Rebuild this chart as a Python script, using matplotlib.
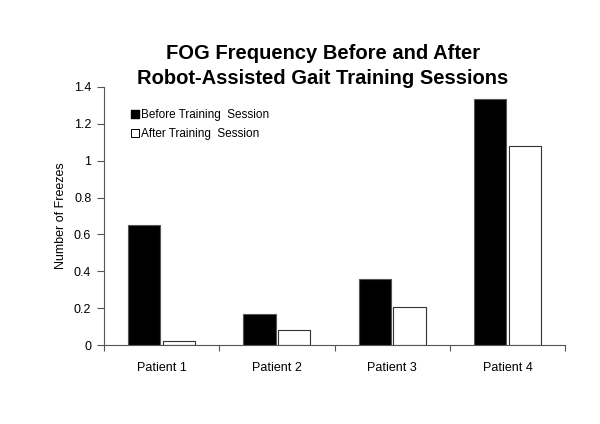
import numpy as np
import matplotlib.pyplot as plt
from matplotlib.lines import Line2D

plt.rcParams['font.family'] = ['Liberation Sans', 'DejaVu Sans']

patients = ["Patient 1", "Patient 2", "Patient 3", "Patient 4"]
before = [0.65, 0.17, 0.36, 1.335]
after = [0.02, 0.08, 0.205, 1.08]

fig = plt.figure(figsize=(6.0, 4.24), dpi=100)
ax = fig.add_axes([0.173, 0.186, 0.769, 0.609])

x = np.arange(len(patients))
w = 0.28
ax.bar(x - 0.15, before, w, color="black", edgecolor="#555555", linewidth=0.8)
ax.bar(x + 0.15, after, w, color="white", edgecolor="#333333", linewidth=0.8)

ax.set_xlim(-0.5, len(patients) - 0.5)
ax.set_ylim(0, 1.4)
ax.set_yticks(np.arange(0, 1.41, 0.2))
ax.set_yticklabels(["0", "0.2", "0.4", "0.6", "0.8", "1", "1.2", "1.4"], fontsize=9)
ax.set_xticks(np.arange(-0.5, len(patients)), labels=[""] * (len(patients) + 1))
ax.set_xticks(x, labels=patients, minor=True)
ax.tick_params(axis="x", which="minor", length=0, labelsize=9, pad=12)
ax.tick_params(axis="x", which="major", direction="out", length=4, color="#555555")
ax.tick_params(axis="y", direction="out", length=5, color="#555555", pad=4)

for side in ("top", "right"):
    ax.spines[side].set_visible(False)
for side in ("left", "bottom"):
    ax.spines[side].set_color("#555555")

ax.set_ylabel("Number of Freezes", fontsize=9, labelpad=5)
fig.text(0.538, 0.845, "FOG Frequency Before and After\nRobot-Assisted Gait Training Sessions",
         ha="center", va="center", fontsize=14.5, fontweight="bold", linespacing=1.4)

handles = [
    Line2D([], [], marker="s", linestyle="none", markerfacecolor="black",
           markeredgecolor="black", markersize=6),
    Line2D([], [], marker="s", linestyle="none", markerfacecolor="white",
           markeredgecolor="black", markersize=6, markeredgewidth=0.7),
]
ax.legend(handles, ["Before Training  Session", "After Training  Session"],
          loc="upper left", bbox_to_anchor=(0.06, 0.915), frameon=False,
          fontsize=8.5, handlelength=0.6, handletextpad=0.2, labelspacing=0.6,
          borderaxespad=0, borderpad=0)

fig.savefig("out.png", dpi=100)
